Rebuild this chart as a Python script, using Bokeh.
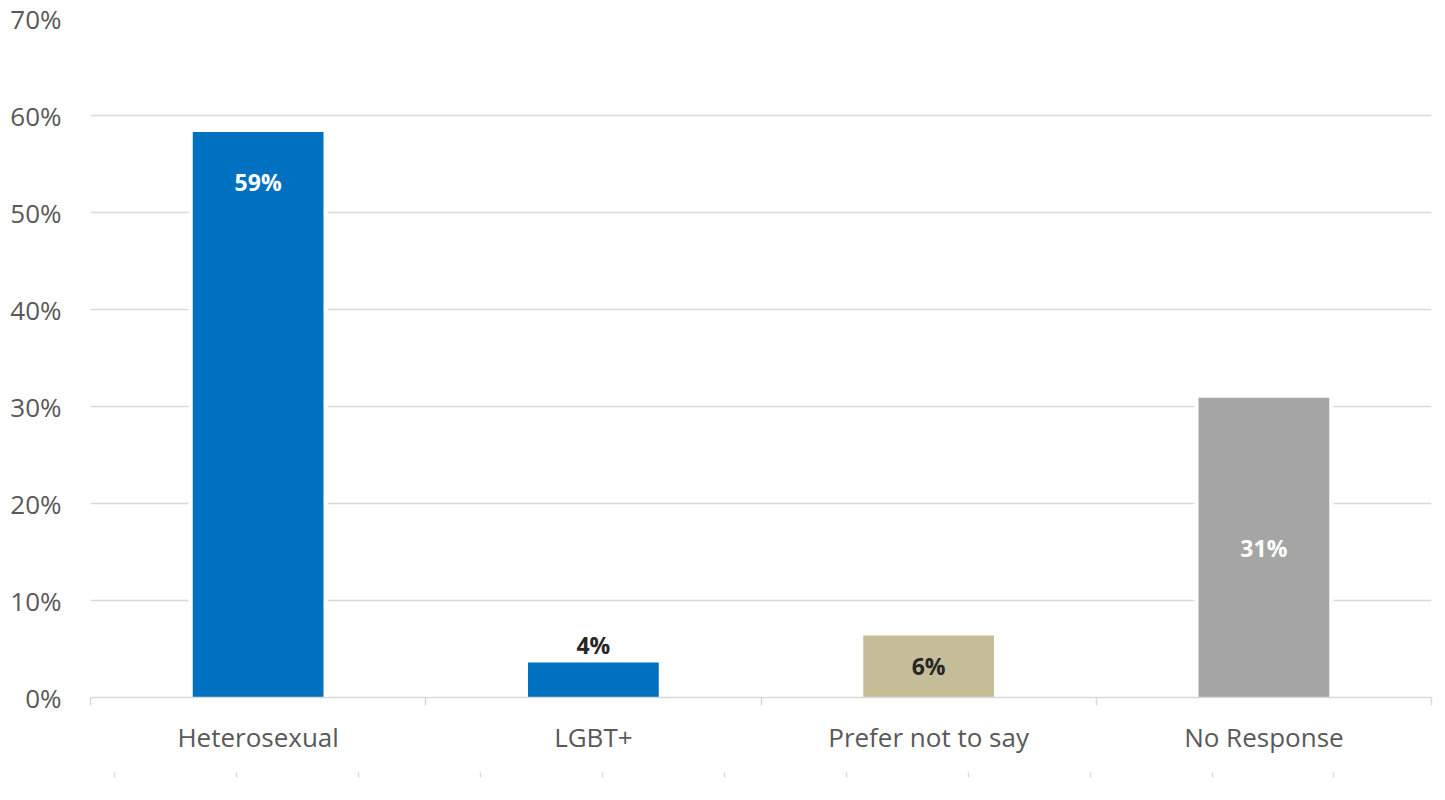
from bokeh.plotting import figure
from bokeh.models import Range1d, FixedTicker, LinearAxis, ColumnDataSource, CustomJSTickFormatter
from bokeh.core.properties import value
from bokeh.embed import file_html
from bokeh.resources import INLINE

categories = ["Heterosexual", "LGBT+", "Prefer not to say", "No Response"]
values = [58.3, 3.6, 6.4, 30.9]
labels = ["59%", "4%", "6%", "31%"]
bar_colors = ["#0070C0", "#0070C0", "#C4BD97", "#A5A5A5"]
label_colors = ["#FFFFFF", "#262626", "#262626", "#FFFFFF"]
label_modes = ["inside_end", "outside_end", "center", "center"]
y_ticks = [0, 10, 20, 30, 40, 50, 60, 70]

W, H = 1445, 800
LEFT, RIGHT, TOP, BOTTOM = 90, 14, 18, 103
frame_h = H - TOP - BOTTOM
y_max = 70
ypp = y_max / frame_h

xs = [i + 0.5 for i in range(len(categories))]
label_y = []
for v, m in zip(values, label_modes):
    if m == "inside_end":
        label_y.append(v - 50 * ypp)
    elif m == "outside_end":
        label_y.append(v + 18 * ypp)
    else:
        label_y.append(v / 2)

src = ColumnDataSource(dict(x=xs, top=values, color=bar_colors, label=labels,
                            lc=label_colors, ly=label_y))

p = figure(width=W, height=H, output_backend="svg", toolbar_location=None,
           x_range=Range1d(0, len(categories)), y_range=Range1d(0, y_max),
           min_border_left=LEFT, min_border_right=RIGHT, min_border_top=TOP,
           min_border_bottom=BOTTOM)
p.outline_line_color = None
p.background_fill_color = "white"
p.border_fill_color = "white"

p.xgrid.grid_line_color = None
p.ygrid.grid_line_color = "#D9D9D9"
p.ygrid.grid_line_width = 1.5
p.ygrid.ticker = FixedTicker(ticks=y_ticks)

# white halo behind bars
p.vbar(x="x", top="top", bottom=0, width=0.39, source=src,
       fill_color="white", line_color="white", line_width=8)
p.vbar(x="x", top="top", bottom=0, width=0.39, source=src,
       fill_color="color", line_color=None)

p.text(x="x", y="ly", text="label", text_color="lc", source=src,
       text_align="center", text_baseline="middle",
       text_font=value("Open Sans"), text_font_style="bold", text_font_size="23px")

# y axis
ya = p.yaxis[0]
ya.ticker = FixedTicker(ticks=y_ticks)
ya.formatter = CustomJSTickFormatter(code="return tick.toFixed(0) + '%';")
ya.axis_line_color = None
ya.major_tick_line_color = None
ya.minor_tick_line_color = None
ya.major_tick_out = 0
ya.major_tick_in = 0
ya.major_label_standoff = 29
ya.major_label_text_font = "Open Sans"
ya.major_label_text_font_size = "26px"
ya.major_label_text_color = "#595959"

# x axis
xa = p.xaxis[0]
xa.ticker = FixedTicker(ticks=xs, minor_ticks=list(range(len(categories) + 1)))
xa.formatter = CustomJSTickFormatter(args=dict(names=categories),
                                     code="return names[Math.floor(tick)];")
xa.axis_line_color = "#D9D9D9"
xa.axis_line_width = 1.5
xa.major_tick_line_color = None
xa.major_tick_out = 0
xa.major_tick_in = 0
xa.minor_tick_line_color = "#D9D9D9"
xa.minor_tick_line_width = 1.5
xa.minor_tick_out = 8
xa.minor_tick_in = 0
xa.major_label_standoff = 13
xa.major_label_text_font = "Open Sans"
xa.major_label_text_font_size = "26px"
xa.major_label_text_color = "#595959"
xa.axis_label = " "
xa.axis_label_standoff = 6
xa.axis_label_text_font_size = "10px"

# decorative secondary tick row
p.extra_x_ranges = {"deco": Range1d(0, 11)}
ax2 = LinearAxis(x_range_name="deco", ticker=FixedTicker(ticks=[k + 0.2 for k in range(11)]),
                 formatter=CustomJSTickFormatter(code="return '';"))
ax2.axis_line_color = None
ax2.major_tick_in = 5
ax2.major_tick_out = 0
ax2.major_tick_line_color = "#D9D9D9"
ax2.major_tick_line_width = 1.5
ax2.minor_tick_line_color = None
ax2.major_label_standoff = 0
p.add_layout(ax2, "below")

open("out.html", "w").write(file_html(p, INLINE))
